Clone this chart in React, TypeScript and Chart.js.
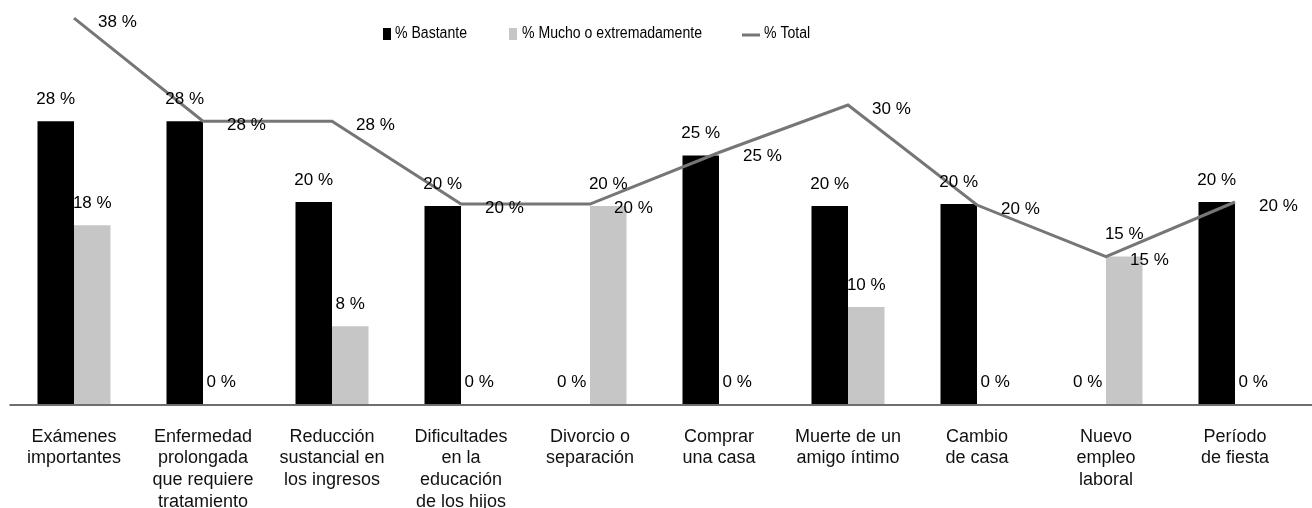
import React, { useEffect, useRef } from "react";
import { Chart, registerables } from "chart.js";

Chart.register(...registerables);

const categories: string[][] = [
  ["Exámenes", "importantes"],
  ["Enfermedad", "prolongada", "que requiere", "tratamiento"],
  ["Reducción", "sustancial en", "los ingresos"],
  ["Dificultades", "en la", "educación", "de los hijos"],
  ["Divorcio o", "separación"],
  ["Comprar", "una casa"],
  ["Muerte de un", "amigo íntimo"],
  ["Cambio", "de casa"],
  ["Nuevo", "empleo", "laboral"],
  ["Período", "de fiesta"],
];
const bastante = [28.0, 28.0, 20.0, 19.6, 0, 24.6, 19.6, 19.8, 0, 20.0];
const mucho = [17.7, 0, 7.7, 0, 19.6, 0, 9.6, 0, 14.6, 0];
const total = [38.2, 28.0, 28.0, 19.8, 19.8, 24.9, 29.6, 19.7, 14.6, 20.0];
const seriesNames = ["% Bastante", "% Mucho o extremadamente", "% Total"];

const FONT = '"Liberation Sans", Helvetica, Arial, sans-serif';
const BLACK = "#000000";
const GRAY = "#c6c6c6";
const LINE = "#767676";

const valueLabels = {
  id: "valueLabels",
  afterDatasetsDraw(chart: any) {
    const ctx = chart.ctx;
    ctx.save();
    ctx.font = `17px ${FONT}`;
    ctx.fillStyle = "#000";
    ctx.textBaseline = "middle";
    chart.data.datasets.forEach((ds: any, i: number) => {
      const meta = chart.getDatasetMeta(i);
      meta.data.forEach((el: any, j: number) => {
        const txt = Math.round(ds.data[j]) + " %";
        if (ds.type === "line") {
          ctx.textAlign = "left";
          ctx.fillText(txt, el.x + 24, el.y + 4);
        } else {
          ctx.textAlign = "center";
          ctx.fillText(txt, el.x, el.y - 22);
        }
      });
    });
    ctx.restore();
  },
};

const axisLine = {
  id: "axisLine",
  beforeDatasetsDraw(chart: any) {
    const ctx = chart.ctx;
    const y = chart.chartArea.bottom + 1;
    ctx.save();
    ctx.strokeStyle = "#6e6e6e";
    ctx.lineWidth = 2;
    ctx.beginPath();
    ctx.moveTo(chart.chartArea.left, y);
    ctx.lineTo(chart.width, y);
    ctx.stroke();
    ctx.restore();
  },
};

const customLegend = {
  id: "customLegend",
  afterDraw(chart: any) {
    const ctx = chart.ctx;
    ctx.save();
    ctx.font = `16px ${FONT}`;
    ctx.fillStyle = "#000";
    ctx.textBaseline = "middle";
    ctx.textAlign = "left";
    const cy = 34;
    const drawText = (t: string, x: number) => {
      ctx.save();
      ctx.translate(x, cy);
      ctx.scale(0.88, 1);
      ctx.fillStyle = "#000";
      ctx.fillText(t, 0, 0);
      ctx.restore();
    };
    ctx.fillStyle = BLACK;
    ctx.fillRect(383, 28, 8, 12);
    drawText(seriesNames[0], 395);
    ctx.fillStyle = GRAY;
    ctx.fillRect(509, 28, 8, 12);
    drawText(seriesNames[1], 522);
    ctx.strokeStyle = LINE;
    ctx.lineWidth = 3;
    ctx.beginPath();
    ctx.moveTo(742, 35);
    ctx.lineTo(760, 35);
    ctx.stroke();
    drawText(seriesNames[2], 764);
    ctx.restore();
  },
};

export default function App() {
  const ref = useRef<HTMLCanvasElement>(null);
  useEffect(() => {
    document.body.style.margin = "0";
    const canvas = ref.current;
    if (!canvas) return;
    const chart = new Chart(canvas, {
      type: "bar",
      data: {
        labels: categories,
        datasets: [
          {
            type: "line",
            label: seriesNames[2],
            data: total,
            borderColor: LINE,
            backgroundColor: LINE,
            borderWidth: 3,
            pointRadius: 0,
            tension: 0,
            order: 0,
          } as any,
          {
            type: "bar",
            label: seriesNames[0],
            data: bastante,
            backgroundColor: BLACK,
            categoryPercentage: 0.566,
            barPercentage: 1,
            order: 1,
          },
          {
            type: "bar",
            label: seriesNames[1],
            data: mucho,
            backgroundColor: GRAY,
            categoryPercentage: 0.566,
            barPercentage: 1,
            order: 2,
          },
        ],
      },
      options: {
        responsive: false,
        animation: false,
        devicePixelRatio: 1,
        layout: { padding: { left: 9.5, right: 12.5, top: 0, bottom: 0 } },
        plugins: {
          legend: { display: false },
          tooltip: { enabled: false },
        },
        scales: {
          x: {
            grid: { display: false, drawTicks: false },
            border: { display: false },
            ticks: {
              font: { family: FONT, size: 18, lineHeight: 1.2 },
              color: "#111",
              padding: 22,
              maxRotation: 0,
              autoSkip: false,
            },
            afterFit: (axis: any) => {
              axis.height = 104;
            },
          },
          y: {
            display: false,
            min: 0,
            max: 40,
          },
        },
      },
      plugins: [axisLine, valueLabels, customLegend],
    });
    return () => chart.destroy();
  }, []);
  return <canvas ref={ref} width={1312} height={508} style={{ display: "block" }} />;
}
